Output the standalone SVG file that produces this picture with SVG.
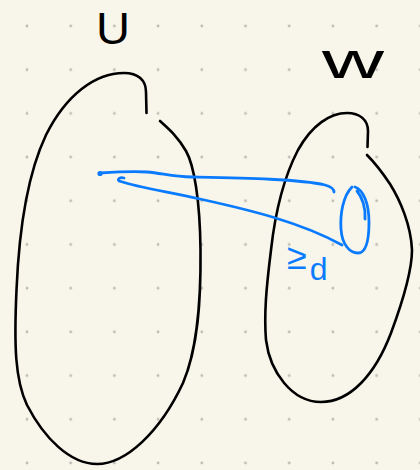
<svg xmlns="http://www.w3.org/2000/svg" width="420" height="470" viewBox="0 0 420 470">
<defs>
<pattern id="dots" patternUnits="userSpaceOnUse" x="5.15" y="4.15" width="43.7" height="43.7">
<circle cx="21.85" cy="21.85" r="1.4" fill="#bdbcb4"/>
</pattern>
<style>
.ink{fill:none;stroke:#000;stroke-width:2.6;stroke-linecap:round;stroke-linejoin:round}
.blue{fill:none;stroke:#0a7bff;stroke-width:2.8;stroke-linecap:round;stroke-linejoin:round}
.lbl{font-family:"Liberation Sans","DejaVu Sans",sans-serif;fill:#000}
.blbl{font-family:"Liberation Sans","DejaVu Sans",sans-serif;fill:#0a7bff}
</style>
</defs>
<rect width="420" height="470" fill="#f8f6ea"/>
<rect width="420" height="470" fill="url(#dots)"/>
<g id="U">
<path class="ink" d="M146.5,113 L146,92 C146,80 138,73 124,73 C95,73 66,95 46,135 C27,175 19,230 16.5,290 C14,345 15,380 27,405 C44,438 70,464 97,464 C126,464 160,432 183,383 C198,348 201,300 200.5,250 C200,200 194,165 186,151 C178,137 170,130 160,121"/>
<text class="lbl" x="96" y="44" font-size="44" textLength="34" lengthAdjust="spacingAndGlyphs">U</text>
</g>
<g id="W">
<path class="ink" d="M367.5,147 L368,131 C368,120 360,113 347,113 C330,113 312,125 298,150 C285,175 276,205 271,250 C266,290 264,315 266,340 C270,372 292,402 321,402 C350,402 375,375 391,333 C404,298 412,270 412,250 C411,225 400,200 390,184 C382,172 374,162 367,155"/>
<text class="lbl" x="322" y="78" font-size="50" textLength="62" lengthAdjust="spacingAndGlyphs">w</text>
</g>
<g id="ball">
<path class="blue" d="M352,187 C343,196 340,214 341,229 C342,245 350,253 358,253 C366,253 369,240 369,222 C369,205 364,190 355,187 M357,191 C362,197 366,208 365,219"/>
<text class="blbl" x="287" y="269" font-size="36">≥<tspan dx="3" dy="11" font-size="32">d</tspan></text>
</g>
<g id="connectors">
<path class="blue" d="M100,173 C115,172 135,171 147,172 C162,173 172,177 192,177 C240,178 300,179 325,185 C332,187 334,189 334,192"/>
<circle cx="100" cy="173.5" r="2.6" fill="#0a7bff"/>
<path class="blue" d="M124,178 C120,177 117,179 119,181 C140,188 170,192 200,199 C250,210 300,222 342,245"/>
</g>
</svg>
